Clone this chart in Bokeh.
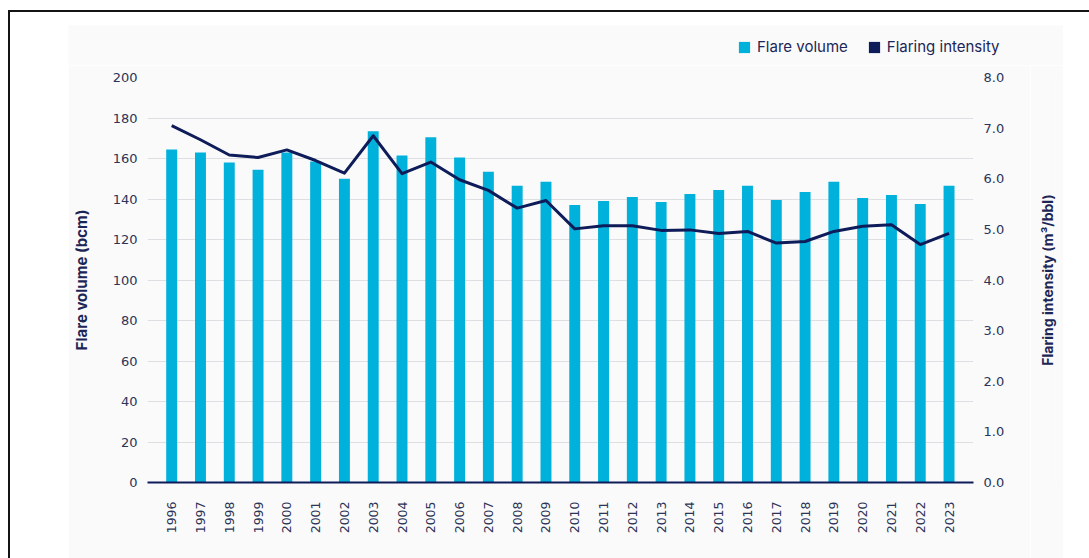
import math

from bokeh.embed import file_html
from bokeh.layouts import column, row
from bokeh.models import (FixedTicker, Legend, LegendItem, LinearAxis,
                          NumeralTickFormatter, Range1d)
from bokeh.plotting import figure
from bokeh.resources import INLINE

# ---- data -------------------------------------------------------------
years = list(range(1996, 2024))
flare_volume = [164.5, 163, 158, 154.5, 163, 158.5, 150, 173.5, 161.5, 170.5,
                160.5, 153.5, 146.5, 148.5, 137, 139, 141, 138.5, 142.5, 144.5,
                146.5, 139.5, 143.5, 148.5, 140.5, 142, 137.5, 146.5]
flaring_intensity = [7.05, 6.77, 6.47, 6.42, 6.57, 6.36, 6.11, 6.85, 6.10, 6.33,
                     5.98, 5.77, 5.42, 5.57, 5.01, 5.07, 5.07, 4.98, 4.99, 4.92,
                     4.96, 4.73, 4.76, 4.96, 5.06, 5.09, 4.70, 4.92]
volume_ticks = [0, 20, 40, 60, 80, 100, 120, 140, 160, 180, 200]
intensity_ticks = [0, 1, 2, 3, 4, 5, 6, 7, 8]

# ---- style ------------------------------------------------------------
CYAN = "#00b1db"
NAVY = "#0f1c5a"
TEXT = "#2c3457"
TITLE = "#1c2656"
GRID = "#dedfe2"
BG = "#fafafa"
FONT = "Inter"
TICK_FONT = "DejaVu Sans"


def bare(axis):
    """Hide axis rule and tick marks, keep the labels."""
    axis.axis_line_color = None
    axis.major_tick_line_color = None
    axis.minor_tick_line_color = None
    axis.major_tick_out = 0
    axis.major_tick_in = 0
    axis.minor_tick_out = 0
    axis.minor_tick_in = 0


# ---- legend strip ------------------------------------------------------
# A separate narrow plot carries the key so that it can reach past the
# right edge of the chart's frame.  Its series sit outside its (0, 1)
# view and only lend their colours to the legend swatches.
key = figure(width=995, height=40, x_range=Range1d(0, 1), y_range=Range1d(0, 1),
             x_axis_type=None, y_axis_type=None,
             output_backend="svg", toolbar_location=None,
             min_border=0, background_fill_color=BG, border_fill_color=BG,
             outline_line_color=None)
key.frame_align = False
key.grid.visible = False
key.margin = (13, 0, 0, 58)
volume_swatch = key.vbar(x=years, top=flare_volume, width=0.38,
                         fill_color=CYAN, line_color=None)
intensity_swatch = key.vbar(x=years, top=flaring_intensity, width=0.38,
                            fill_color=NAVY, line_color=None)

legend = Legend(
    items=[LegendItem(label="Flare volume", renderers=[volume_swatch]),
           LegendItem(label="Flaring intensity", renderers=[intensity_swatch])],
    orientation="horizontal", location=(669, 9),
    glyph_width=14, glyph_height=14, label_height=14,
    label_standoff=6, spacing=19, padding=0, margin=0,
    label_text_font=FONT, label_text_font_size="15px", label_text_color=TITLE,
    border_line_color=None, background_fill_alpha=0,
)
key.add_layout(legend, "center")

# ---- main chart --------------------------------------------------------
p = figure(
    width=962, height=493,
    x_range=Range1d(1995.16, 2023.85), y_range=Range1d(0, 200),
    output_backend="svg", toolbar_location=None,
    min_border_left=79, min_border_right=57, min_border_top=12, min_border_bottom=76,
    background_fill_color=BG, border_fill_color=BG, outline_line_color=None,
)
p.frame_align = False
p.margin = (0, 0, 0, 58)

p.vbar(x=years, top=flare_volume, width=0.38, fill_color=CYAN, line_color=None)

p.extra_y_ranges = {"intensity": Range1d(0, 8)}
p.line(years, flaring_intensity, y_range_name="intensity",
       line_color=NAVY, line_width=3, line_join="round")

# x axis: vertical year labels, dark baseline, no ticks
xa = p.xaxis[0]
bare(xa)
xa.ticker = FixedTicker(ticks=years)
xa.major_label_orientation = math.pi / 2
xa.major_label_standoff = 19
xa.axis_line_color = NAVY
xa.axis_line_width = 2
xa.major_label_text_font = TICK_FONT
xa.major_label_text_font_size = "12.5px"
xa.major_label_text_color = TEXT

# left axis
ya = p.yaxis[0]
bare(ya)
ya.ticker = FixedTicker(ticks=volume_ticks)
ya.axis_label = "Flare volume (bcm)"
ya.major_label_standoff = 10
ya.axis_label_standoff = 19
ya.axis_label_text_font = FONT
ya.axis_label_text_font_size = "15px"
ya.axis_label_text_font_style = "bold"
ya.axis_label_text_color = TITLE

# right axis: tick labels only
ra = LinearAxis(y_range_name="intensity", ticker=FixedTicker(ticks=intensity_ticks),
                formatter=NumeralTickFormatter(format="0.0"))
bare(ra)
ra.major_label_standoff = 10
p.add_layout(ra, "right")

for ax in (ya, ra):
    ax.major_label_text_font = TICK_FONT
    ax.major_label_text_font_size = "13px"
    ax.major_label_text_color = TEXT

p.xgrid.visible = False
p.ygrid.ticker = FixedTicker(ticks=volume_ticks)
p.ygrid.grid_line_color = GRID
p.ygrid.grid_line_width = 1

# ---- right-hand title ---------------------------------------------------
# A slim companion plot whose left axis carries the intensity title, so the
# title reads bottom-to-top and stays centred on the chart's frame.
side = figure(width=33, height=493, x_range=Range1d(0, 1), y_range=Range1d(0, 8),
              x_axis_type=None, output_backend="svg", toolbar_location=None,
              min_border_left=25, min_border_right=0, min_border_top=12,
              min_border_bottom=76, background_fill_color=BG, border_fill_color=BG,
              outline_line_color=None)
side.frame_align = False
side.grid.visible = False
sa = side.yaxis[0]
bare(sa)
sa.ticker = FixedTicker(ticks=[])
sa.major_label_standoff = 0
sa.axis_label = "Flaring intensity (m³/bbl)"
sa.axis_label_standoff = 0
sa.axis_label_text_font = FONT
sa.axis_label_text_font_size = "14px"
sa.axis_label_text_font_style = "bold"
sa.axis_label_text_color = TITLE

page = column(key, row(p, side, spacing=0), width=1081, height=548, spacing=0,
              margin=(10, 0, 0, 8),
              styles={"border-top": "2px solid #141414",
                      "border-left": "2px solid #141414",
                      "background-color": "white"})

open("out.html", "w").write(file_html(page, INLINE))
